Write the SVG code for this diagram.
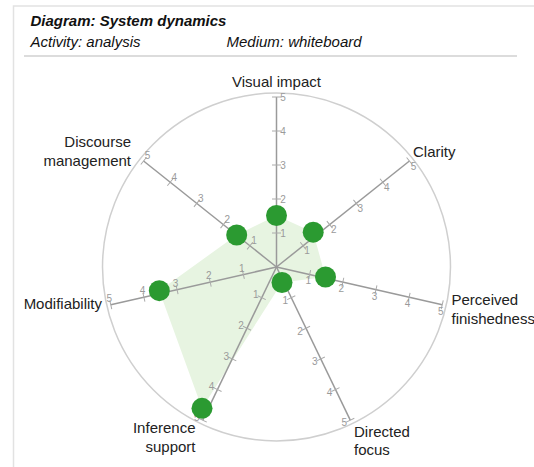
<svg xmlns="http://www.w3.org/2000/svg" width="534" height="467" viewBox="0 0 534 467">
<style>
.hdr{font-family:"Liberation Sans",Arial,sans-serif;font-size:15px;fill:#111;font-style:italic}
.lbl{font-family:"Liberation Sans",Arial,sans-serif;font-size:15px;fill:#222}
.ax{stroke:#9a9a9a;stroke-width:1.5;fill:none}
.tk{stroke:#aaa;stroke-width:1;fill:none}
.tl{font-family:"Liberation Sans",Arial,sans-serif;font-size:10px;fill:#9a9a9a;text-anchor:middle;dominant-baseline:central}
.dot{fill:#2b9a31}
</style>
<rect width="534" height="467" fill="#fff"/>
<g id="frame">
<path d="M13.5,467 V6 H534" stroke="#e2e2e2" stroke-width="1.5" fill="none"/>
<line x1="24" y1="56" x2="517" y2="56" stroke="#dcdcdc" stroke-width="2"/>
</g>
<g id="header">
<text class="hdr" x="30.5" y="26" font-weight="bold">Diagram: System dynamics</text>
<text class="hdr" x="30.5" y="46.5">Activity: analysis</text>
<text class="hdr" x="226.5" y="46.5">Medium: whiteboard</text>
</g>
<g id="grid">
<circle cx="276.5" cy="267" r="174" fill="none" stroke="#cfcfcf" stroke-width="1.5"/>
</g>
<g id="data">
<polygon points="276.5,215.5 313.2,232.2 325.5,277 282,282.5 202,408.3 159.3,290.7 236.7,235" fill="#e7f4e1"/>
</g>
<g id="axis-visual-impact" transform="rotate(0 276.5 267)">
<line class="ax" x1="276.5" y1="267" x2="276.5" y2="97"/>
<path class="tk" d="M272,233H281M272,199H281M272,165H281M272,131H281M272,97H281"/>
<text class="tl" x="283" y="233">1</text><text class="tl" x="283" y="199">2</text><text class="tl" x="283" y="165">3</text><text class="tl" x="283" y="131">4</text><text class="tl" x="283" y="97">5</text>
</g>
<g id="axis-clarity" transform="rotate(51.4286 276.5 267)">
<line class="ax" x1="276.5" y1="267" x2="276.5" y2="97"/>
<path class="tk" d="M272,233H281M272,199H281M272,165H281M272,131H281M272,97H281"/>
<text class="tl" x="283" y="233" transform="rotate(-51.4286 283 233)">1</text><text class="tl" x="283" y="199" transform="rotate(-51.4286 283 199)">2</text><text class="tl" x="283" y="165" transform="rotate(-51.4286 283 165)">3</text><text class="tl" x="283" y="131" transform="rotate(-51.4286 283 131)">4</text><text class="tl" x="283" y="97" transform="rotate(-51.4286 283 97)">5</text>
</g>
<g id="axis-perceived-finishedness" transform="rotate(102.8571 276.5 267)">
<line class="ax" x1="276.5" y1="267" x2="276.5" y2="97"/>
<path class="tk" d="M272,233H281M272,199H281M272,165H281M272,131H281M272,97H281"/>
<text class="tl" x="283" y="233" transform="rotate(-102.8571 283 233)">1</text><text class="tl" x="283" y="199" transform="rotate(-102.8571 283 199)">2</text><text class="tl" x="283" y="165" transform="rotate(-102.8571 283 165)">3</text><text class="tl" x="283" y="131" transform="rotate(-102.8571 283 131)">4</text><text class="tl" x="283" y="97" transform="rotate(-102.8571 283 97)">5</text>
</g>
<g id="axis-directed-focus" transform="rotate(154.2857 276.5 267)">
<line class="ax" x1="276.5" y1="267" x2="276.5" y2="97"/>
<path class="tk" d="M272,233H281M272,199H281M272,165H281M272,131H281M272,97H281"/>
<text class="tl" x="283" y="233" transform="rotate(-154.2857 283 233)">1</text><text class="tl" x="283" y="199" transform="rotate(-154.2857 283 199)">2</text><text class="tl" x="283" y="165" transform="rotate(-154.2857 283 165)">3</text><text class="tl" x="283" y="131" transform="rotate(-154.2857 283 131)">4</text><text class="tl" x="283" y="97" transform="rotate(-154.2857 283 97)">5</text>
</g>
<g id="axis-inference-support" transform="rotate(205.7143 276.5 267)">
<line class="ax" x1="276.5" y1="267" x2="276.5" y2="97"/>
<path class="tk" d="M272,233H281M272,199H281M272,165H281M272,131H281M272,97H281"/>
<text class="tl" x="283" y="233" transform="rotate(-205.7143 283 233)">1</text><text class="tl" x="283" y="199" transform="rotate(-205.7143 283 199)">2</text><text class="tl" x="283" y="165" transform="rotate(-205.7143 283 165)">3</text><text class="tl" x="283" y="131" transform="rotate(-205.7143 283 131)">4</text><text class="tl" x="283" y="97" transform="rotate(-205.7143 283 97)">5</text>
</g>
<g id="axis-modifiability" transform="rotate(257.1429 276.5 267)">
<line class="ax" x1="276.5" y1="267" x2="276.5" y2="97"/>
<path class="tk" d="M272,233H281M272,199H281M272,165H281M272,131H281M272,97H281"/>
<text class="tl" x="283" y="233" transform="rotate(-257.1429 283 233)">1</text><text class="tl" x="283" y="199" transform="rotate(-257.1429 283 199)">2</text><text class="tl" x="283" y="165" transform="rotate(-257.1429 283 165)">3</text><text class="tl" x="283" y="131" transform="rotate(-257.1429 283 131)">4</text><text class="tl" x="283" y="97" transform="rotate(-257.1429 283 97)">5</text>
</g>
<g id="axis-discourse-management" transform="rotate(308.5714 276.5 267)">
<line class="ax" x1="276.5" y1="267" x2="276.5" y2="97"/>
<path class="tk" d="M272,233H281M272,199H281M272,165H281M272,131H281M272,97H281"/>
<text class="tl" x="283" y="233" transform="rotate(-308.5714 283 233)">1</text><text class="tl" x="283" y="199" transform="rotate(-308.5714 283 199)">2</text><text class="tl" x="283" y="165" transform="rotate(-308.5714 283 165)">3</text><text class="tl" x="283" y="131" transform="rotate(-308.5714 283 131)">4</text><text class="tl" x="283" y="97" transform="rotate(-308.5714 283 97)">5</text>
</g>
<g id="labels">
<text class="lbl" x="276.5" y="86.5" text-anchor="middle">Visual impact</text>
<text class="lbl" x="413" y="156.5">Clarity</text>
<text class="lbl" x="451.5" y="305">Perceived</text>
<text class="lbl" x="451.5" y="323.5">finishedness</text>
<text class="lbl" x="354" y="436.5">Directed</text>
<text class="lbl" x="354" y="455">focus</text>
<text class="lbl" x="195.5" y="433" text-anchor="end">Inference</text>
<text class="lbl" x="195.5" y="451.5" text-anchor="end">support</text>
<text class="lbl" x="102" y="309" text-anchor="end">Modifiability</text>
<text class="lbl" x="131" y="147" text-anchor="end">Discourse</text>
<text class="lbl" x="131" y="165.5" text-anchor="end">management</text>
</g>
<g id="points">
<circle id="pt-visual-impact" class="dot" cx="276.5" cy="215.5" r="10.5"/>
<circle id="pt-clarity" class="dot" cx="313.2" cy="232.2" r="10.5"/>
<circle id="pt-perceived-finishedness" class="dot" cx="325.5" cy="277" r="10.5"/>
<circle id="pt-directed-focus" class="dot" cx="282" cy="282.5" r="10.5"/>
<circle id="pt-inference-support" class="dot" cx="202" cy="408.3" r="10.5"/>
<circle id="pt-modifiability" class="dot" cx="159.3" cy="290.7" r="10.5"/>
<circle id="pt-discourse-management" class="dot" cx="236.7" cy="235" r="10.5"/>
</g>
</svg>
